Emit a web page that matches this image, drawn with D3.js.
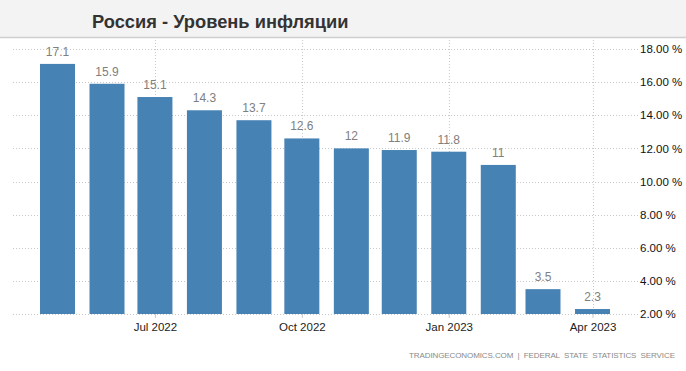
<!DOCTYPE html>
<html><head><meta charset="utf-8">
<script src="https://cdn.jsdelivr.net/npm/d3@7"></script>
<style>
html,body{margin:0;padding:0;background:#fff;}
svg{display:block;}
</style></head>
<body>
<svg id="c" width="686" height="371"></svg>
<script>
const title = "Россия - Уровень инфляции";
const months = ["2022-05-01","2022-06-01","2022-07-01","2022-08-01","2022-09-01","2022-10-01","2022-11-01","2022-12-01","2023-01-01","2023-02-01","2023-03-01","2023-04-01"];
const values = [17.1, 15.9, 15.1, 14.3, 13.7, 12.6, 12, 11.9, 11.8, 11, 3.5, 2.3];
const xTickDates = ["2022-07-01","2022-10-01","2023-01-01","2023-04-01"];
const yTicks = [2, 4, 6, 8, 10, 12, 14, 16, 18];
const source = "TRADINGECONOMICS.COM  |  FEDERAL  STATE  STATISTICS  SERVICE";

const parse = d3.utcParse("%Y-%m-%d");
const fmtTick = d3.utcFormat("%b %Y");
const svg = d3.select("#c");

// title band
svg.append("rect").attr("x",0).attr("y",0).attr("width",686).attr("height",37).attr("fill","#f3f3f3");
svg.append("line").attr("x1",0).attr("x2",686).attr("y1",37.5).attr("y2",37.5).attr("stroke","#cfcfcf").attr("stroke-width",1.5);
svg.append("text").attr("x",92).attr("y",28)
  .attr("font-family","Liberation Sans, Arial, sans-serif").attr("font-weight","bold")
  .attr("font-size","18.3px").attr("fill","#333").text(title);

const x = d3.scaleUtc().domain([parse("2022-05-01"), parse("2023-04-01")]).range([57.5, 592.5]);
const y = d3.scaleLinear().domain([2, 18]).range([314, 49]);
const gridL = 13, gridR = 638;

// horizontal grid
svg.append("g").selectAll("line").data(yTicks).join("line")
  .attr("x1",gridL).attr("x2",gridR)
  .attr("y1",d=>Math.round(y(d))+0.5).attr("y2",d=>Math.round(y(d))+0.5)
  .attr("stroke","#c8c8c8").attr("stroke-dasharray","1,2");

// vertical grid
svg.append("g").selectAll("line").data(xTickDates).join("line")
  .attr("x1",d=>Math.round(x(parse(d)))+0.5).attr("x2",d=>Math.round(x(parse(d)))+0.5)
  .attr("y1",40).attr("y2",314)
  .attr("stroke","#c8c8c8").attr("stroke-dasharray","1,2");

// bars
const bw = 35;
svg.append("g").selectAll("rect").data(values).join("rect")
  .attr("x",(d,i)=>x(parse(months[i]))-bw/2)
  .attr("width",bw)
  .attr("y",d=>y(d))
  .attr("height",d=>y(2)-y(d))
  .attr("fill","#4682b4");

// value labels
svg.append("g").selectAll("text").data(values).join("text")
  .attr("x",(d,i)=>x(parse(months[i])))
  .attr("y",d=>y(d)-8)
  .attr("text-anchor","middle")
  .attr("font-family","Liberation Sans, Arial, sans-serif")
  .attr("font-size","12px").attr("fill","#808080")
  .text(d=>d3.format("")(d));

// x axis
const xAxis = d3.axisBottom(x).tickValues(xTickDates.map(parse)).tickFormat(fmtTick).tickSize(4).tickSizeOuter(0);
const gx = svg.append("g").attr("transform","translate(0,314)").call(xAxis);
gx.select(".domain").remove();
gx.selectAll(".tick line").attr("stroke","#c8c8c8");
gx.selectAll(".tick text").attr("font-family","Liberation Sans, Arial, sans-serif")
  .attr("font-size","11.5px").attr("fill","#222").attr("dy","0.9em");

// y axis
const yAxis = d3.axisRight(y).tickValues(yTicks).tickFormat(d=>d3.format(".2f")(d)+" %").tickSize(0);
const gy = svg.append("g").attr("transform","translate(640,0)").call(yAxis);
gy.select(".domain").remove();
gy.selectAll(".tick text").attr("x",0).attr("font-family","Liberation Sans, Arial, sans-serif")
  .attr("font-size","11.5px").attr("fill","#111");

// source
svg.append("text").attr("x",409).attr("y",358)
  .attr("font-family","Liberation Sans, Arial, sans-serif").attr("font-size","8px")
  .attr("textLength",266).attr("lengthAdjust","spacing")
  .attr("fill","#8a8a8a").attr("xml:space","preserve").style("white-space","pre").text(source);
</script>
</body></html>
